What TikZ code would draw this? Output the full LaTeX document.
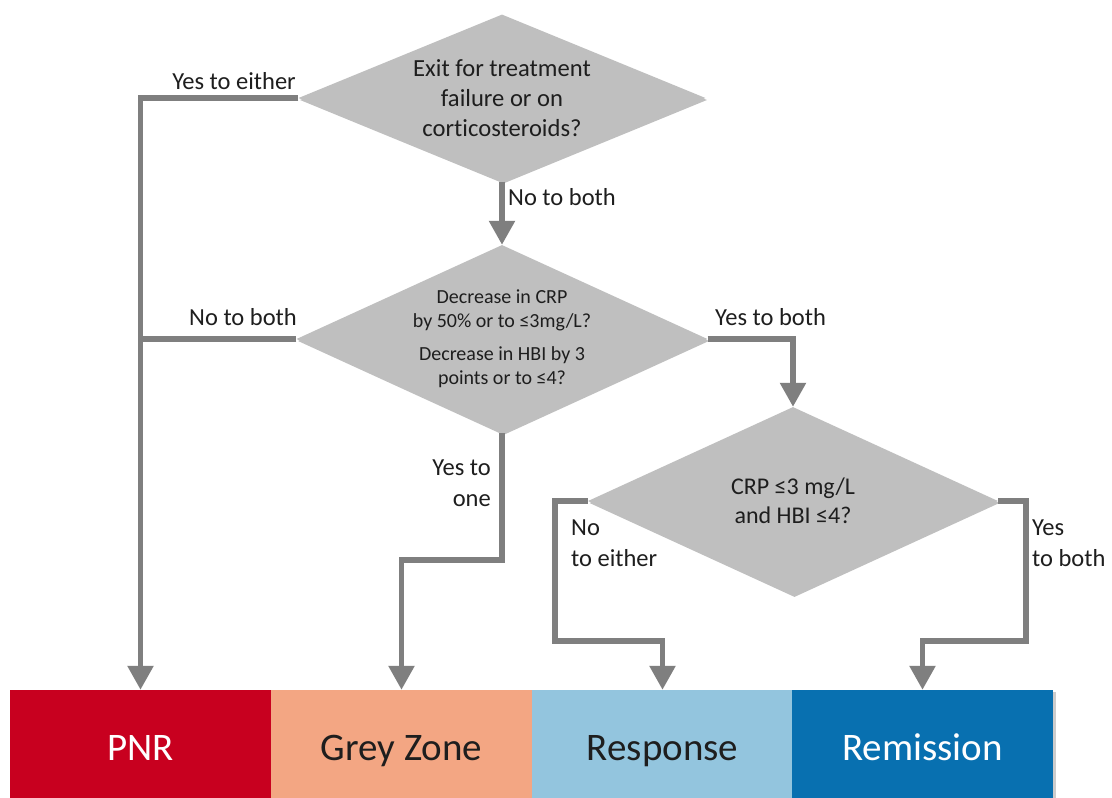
\documentclass[tikz,border=0pt]{standalone}
\usepackage{fontspec}
\setmainfont{Carlito}[Ligatures=NoCommon]
\usetikzlibrary{shapes.geometric,arrows.meta,shadows}

\definecolor{diafill}{HTML}{BFBFBF}
\definecolor{flowline}{HTML}{7F7F7F}
\definecolor{pnrred}{HTML}{C8001F}
\definecolor{greyzone}{HTML}{F3A683}
\definecolor{respblue}{HTML}{93C5DE}
\definecolor{remblue}{HTML}{0870B0}
\definecolor{ink}{HTML}{1E1E1E}

\tikzset{
  decision/.style={shape=diamond, fill=diafill, inner sep=0pt,
    drop shadow={shadow xshift=1.5pt, shadow yshift=-2pt, opacity=0.25, fill=black}},
  qtext/.style={inner sep=0pt, align=center, text=ink},
  flow/.style={draw=flowline, line width=5.5pt, line join=miter},
  flowarrow/.style={flow, -{Triangle[width=25pt,length=24pt]}},
  lbl/.style={inner sep=0pt, text=ink, font=\fontsize{24.5}{31}\selectfont},
  outcome/.style={minimum width=261.5pt, minimum height=108pt, inner sep=0pt,
    text height=32pt, text depth=0pt, font=\fontsize{39}{45}\selectfont},
}

\begin{document}
\begin{tikzpicture}[x=1pt,y=-1pt]
\useasboundingbox[fill=white] (0,0) rectangle (1112,798);

% outcome bars along the bottom
\node[outcome, fill=pnrred, text=white] (pnr) at (140.5,744) {PNR};
\node[outcome, fill=greyzone, text=ink] (gz) at (401.5,744) {Grey Zone};
\node[outcome, fill=respblue, text=ink] (resp) at (662.5,744) {Response};
\node[outcome, fill=remblue, text=white,
  drop shadow={shadow xshift=3pt, shadow yshift=-2pt, opacity=0.2, fill=black}]
  (rem) at (922.5,744) {Remission};

% decision diamonds
\node[decision, minimum width=407pt, minimum height=167pt,
  label={[qtext, font=\fontsize{24.6}{30}\selectfont]center:{Exit for treatment\\failure or on\\corticosteroids?}}]
  (d1) at (502,98) {};
\node[decision, minimum width=411pt, minimum height=188pt,
  label={[qtext, font=\fontsize{20}{24}\selectfont]center:{Decrease in CRP\\by 50\% or to ≤3mg/L?\\[9pt]Decrease in HBI by 3\\points or to ≤4?}}]
  (d2) at (502,339) {};
\node[decision, minimum width=410pt, minimum height=188pt,
  label={[qtext, font=\fontsize{24}{29}\selectfont]center:{CRP ≤3 mg/L\\and HBI ≤4?}}]
  (d3) at (793,501) {};

% bend points of the routed connectors
\coordinate (gzbend) at (502,560);
\coordinate (lbend) at (555,641);
\coordinate (rbend) at (1026,641);

% connectors
\draw[flowarrow] (d1.west) -| (pnr.north);
\draw[flow] (d2.west) -- (d2.west -| pnr.north);
\draw[flowarrow] (d1.south) -- (d2.north);
\draw[flowarrow] (d2.east) -| (d3.north);
\draw[flowarrow] (d2.south) -- (gzbend) -| (gz.north);
\draw[flowarrow] (d3.west) -| (lbend) -| (resp.north);
\draw[flowarrow] (d3.east) -| (rbend) -| (rem.north);

% branch labels (two-line labels are anchored on their last line)
\node[lbl, anchor=base east] (yeseither) at (296,89) {Yes to either};
\node[lbl, anchor=base east] (noboth2) at (297,325) {No to both};
\node[lbl, anchor=base west] (noboth1) at (508,205) {No to both};
\node[lbl, anchor=base west] (yesboth2) at (715,325) {Yes to both};
\node[lbl, align=right, anchor=base east] (yesone) at (491,506) {Yes to\\one};
\node[lbl, align=left, anchor=base west] (noeither) at (571,566) {No\\to either};
\node[lbl, align=left, anchor=base west] (yesboth3) at (1032,566) {Yes\\to both};
\end{tikzpicture}
\end{document}
